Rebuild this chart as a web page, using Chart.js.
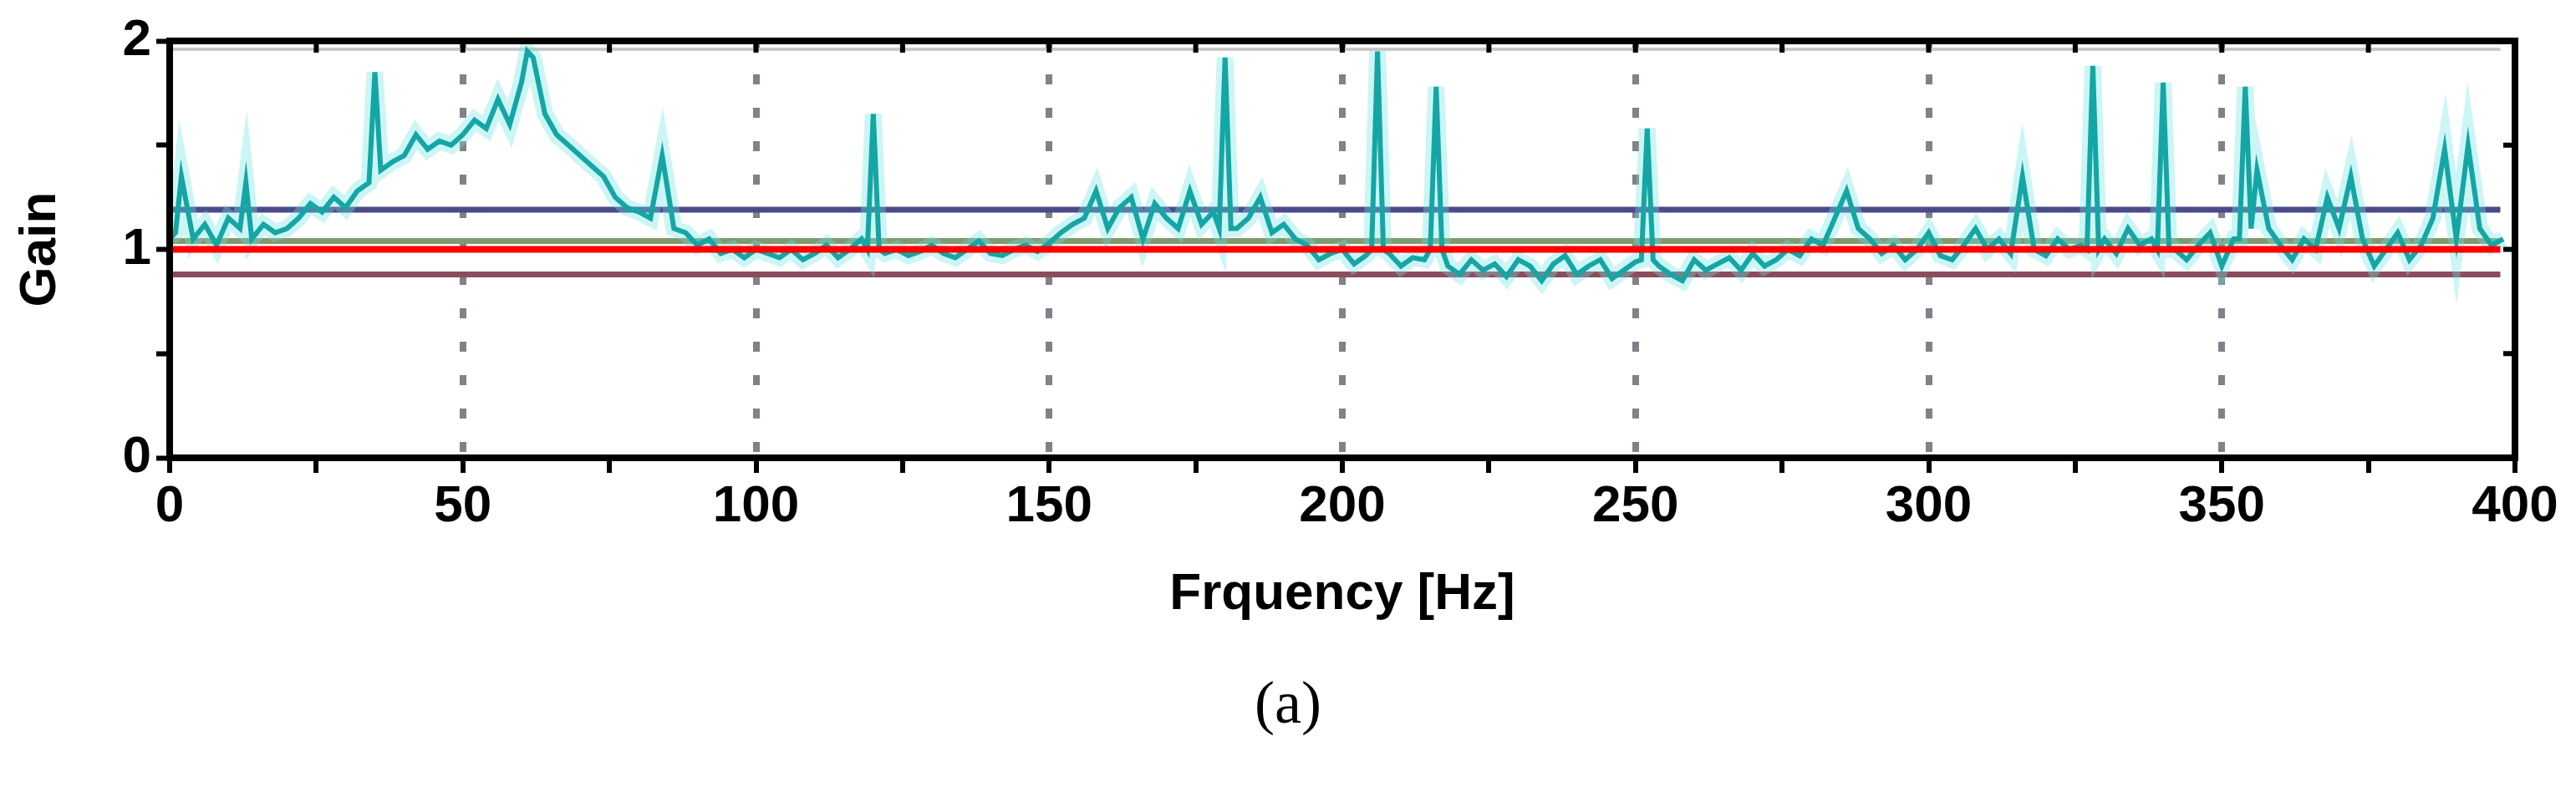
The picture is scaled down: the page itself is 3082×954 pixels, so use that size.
<!DOCTYPE html>
<html><head><meta charset="utf-8">
<script src="https://cdn.jsdelivr.net/npm/chart.js@4"></script>
<style>html,body{margin:0;padding:0;background:#fff}#wrap{position:relative;width:3082px;height:954px}
#lab{position:absolute;left:0;width:3082px;top:800px;text-align:center;font-family:'Liberation Serif','DejaVu Serif',serif;font-size:72px;color:#000}</style>
</head><body><div id="wrap"><canvas id="c" width="3082" height="954"></canvas><div id="lab">(a)</div></div>
<script>
const freq = [0,1,2,4,6,8,10,12,13,14,16,18,20,22,24,26,28,30,32,34,35,36,38,40,42,44,46,48,50,52,54,56,58,60,61,62,64,66,68,70,72,74,76,78,80,82,84,86,88,90,92,94,96,98,100,102,104,106,108,110,112,114,116,118,119,120,121,122,124,126,128,130,132,134,136,138,140,142,144,146,148,150,152,154,156,158,160,162,164,166,168,170,172,174,176,178,179,180,181,182,184,186,188,190,192,194,196,198,200,202,204,205,206,207,208,210,212,214,215,216,217,218,220,222,224,226,228,230,232,234,236,238,240,242,244,246,248,250,251,252,253,254,256,258,260,262,264,266,268,270,272,274,276,278,280,282,284,286,288,290,292,294,296,298,300,302,304,306,308,310,312,314,316,318,320,322,324,326,327,328,329,330,332,334,336,338,339,340,341,342,344,346,348,350,352,353,354,355,356,358,360,362,364,366,368,370,372,374,376,378,380,382,384,386,388,390,392,394,396,398];
const gain = [1.05,1.08,1.35,1.05,1.12,1.02,1.15,1.10,1.32,1.05,1.12,1.08,1.10,1.15,1.22,1.18,1.25,1.20,1.28,1.32,1.85,1.38,1.42,1.45,1.55,1.48,1.52,1.50,1.55,1.62,1.58,1.72,1.60,1.80,1.95,1.92,1.65,1.55,1.50,1.45,1.40,1.35,1.25,1.20,1.18,1.15,1.45,1.10,1.08,1.02,1.05,0.98,1.00,0.96,1.00,0.98,0.96,1.00,0.95,0.98,1.02,0.96,1.00,1.05,1.00,1.65,1.00,0.98,1.00,0.97,0.99,1.02,0.98,0.96,1.00,1.04,0.98,0.97,1.00,1.02,0.99,1.03,1.08,1.12,1.15,1.28,1.10,1.20,1.25,1.05,1.22,1.15,1.10,1.28,1.12,1.18,1.10,1.92,1.10,1.10,1.15,1.25,1.08,1.12,1.05,1.02,0.95,0.98,1.00,0.93,0.97,1.00,1.95,1.00,0.98,0.92,0.96,0.95,1.00,1.78,1.00,0.92,0.88,0.95,0.90,0.93,0.87,0.95,0.92,0.85,0.93,0.97,0.88,0.92,0.95,0.86,0.90,0.94,0.95,1.58,0.95,0.92,0.88,0.85,0.95,0.90,0.93,0.96,0.90,0.98,0.92,0.95,1.00,0.97,1.05,1.02,1.15,1.28,1.10,1.05,0.98,1.02,0.95,1.00,1.08,0.97,0.95,1.02,1.10,1.00,1.05,0.98,1.35,1.00,0.97,1.05,1.00,1.02,1.00,1.88,1.00,1.05,0.98,1.10,1.02,1.05,1.00,1.80,1.00,1.00,0.95,1.02,1.08,0.92,1.05,1.05,1.78,1.10,1.38,1.10,1.02,0.95,1.05,1.00,1.25,1.10,1.35,1.05,0.92,1.00,1.08,0.95,1.02,1.15,1.48,1.05,1.50,1.10,1.02,1.05];
const refLevels = [1.96, 1.19, 1.04, 1.0, 0.88];
const refColors = ['#c8c8c8','#4b4a8a','#7f9a6e','#ff0000','#8c4c5c'];
const refWidths = [4,7,7,8,7];
const xTicks = [0,50,100,150,200,250,300,350,400];
const yTicks = [0,1,2];

const pts = freq.map((f,i)=>({x:f,y:gain[i]}));
const datasets = refLevels.map((v,i)=>({data:[{x:0.5,y:v},{x:397.5,y:v}],borderColor:refColors[i],borderWidth:refWidths[i],pointRadius:0,order:i===3?0:3}));
datasets.push({data:pts,borderColor:'rgba(110,225,225,0.35)',borderWidth:20,pointRadius:0,order:2});
datasets.push({data:pts,borderColor:'#14a6a4',borderWidth:6,pointRadius:0,order:1});

const frame = {id:'frame',afterDraw(ch){const {ctx,chartArea:a,scales:{x,y}}=ch;ctx.save();ctx.strokeStyle='#000';ctx.lineWidth=8;ctx.strokeRect(a.left,a.top,a.right-a.left,a.bottom-a.top);
ctx.lineWidth=6;for(let v=25;v<400;v+=25){const px=x.getPixelForValue(v);ctx.beginPath();ctx.moveTo(px,a.top);ctx.lineTo(px,a.top+14);ctx.stroke();}
for(let v=0.5;v<2;v+=0.5){const py=y.getPixelForValue(v);ctx.beginPath();ctx.moveTo(a.right,py);ctx.lineTo(a.right-14,py);ctx.stroke();}
ctx.restore();}};

const tickFont = {family:"'Liberation Sans Narrow','Liberation Sans',Arial,sans-serif",weight:'bold',size:62};
const titleFont = {family:"'Liberation Sans',Arial,sans-serif",weight:'bold',size:62};
new Chart(document.getElementById('c'),{type:'line',data:{datasets},plugins:[frame],
options:{responsive:false,animation:false,plugins:{legend:{display:false},tooltip:{enabled:false}},
layout:{padding:{top:49,right:73,bottom:205,left:0}},
scales:{
x:{type:'linear',min:0,max:400,afterFit:s=>{s.height=201;},
 ticks:{stepSize:25,autoSkip:false,maxRotation:0,color:'#000',font:tickFont,padding:4,callback:v=>xTicks.includes(v)?String(v):''},
 grid:{drawOnChartArea:true,color:c=>{const v=c.tick&&c.tick.value;return (v%50===0&&v>0&&v<400)?'rgba(115,115,125,0.9)':'rgba(0,0,0,0)';},lineWidth:8,tickColor:'#000',tickWidth:6,tickLength:18},
 border:{display:false,dash:[12,28]},
 title:{display:true,text:'Frquency [Hz]',color:'#000',font:titleFont,padding:{top:20,bottom:0}}},
y:{min:0,max:2,afterFit:s=>{s.width=203;},
 ticks:{stepSize:0.5,autoSkip:false,color:'#000',font:tickFont,padding:6,callback:v=>yTicks.includes(v)?String(v):''},
 grid:{drawOnChartArea:false,tickColor:'#000',tickWidth:6,tickLength:16},
 border:{display:false},
 title:{display:true,text:'Gain',color:'#000',font:titleFont,padding:{top:12,bottom:14}}}
}}});
</script></body></html>
